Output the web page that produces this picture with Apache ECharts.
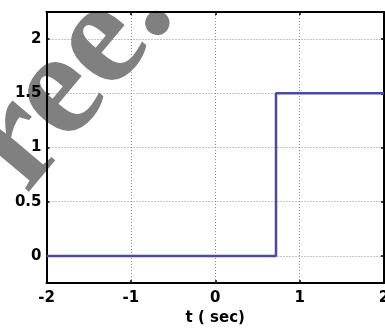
<!DOCTYPE html>
<html>
<head>
<meta charset="utf-8">
<script src="https://cdn.jsdelivr.net/npm/echarts@6/dist/echarts.min.js"></script>
<style>
  html, body { margin: 0; padding: 0; background: #fff; }
  #chart { width: 385px; height: 332px; }
</style>
</head>
<body>
<div id="chart"></div>
<script>
// Step signal: zero until the switch time, then a constant level
const tPoints = [-2, 0.72, 0.72, 2];
const signalValues = [0, 0, 1.5, 1.5];

// Axis extents and tick positions
const tRange = [-2, 2];
const tStep = 1;
const yRange = [-0.25, 2.25];
const yTicks = [0, 0.5, 1, 1.5, 2];

const axisLabelFont = { fontFamily: 'DejaVu Sans', fontWeight: 'bold', fontSize: 15, color: '#000' };
const frameLine = { show: true, onZero: false, lineStyle: { color: '#000', width: 2 } };
const gridDots = { show: true, lineStyle: { color: '#8a8a8a', width: 1, type: [1, 2] } };
const innerTick = { show: true, inside: true, length: 3, lineStyle: { color: '#000', width: 1.5 } };

const chart = echarts.init(document.getElementById('chart'), null, { renderer: 'canvas' });

chart.setOption({
  animation: false,
  backgroundColor: '#fff',
  grid: { left: 46.5, top: 12, right: 1, bottom: 49, containLabel: false, outerBoundsMode: 'none' },
  graphic: [{
    type: 'text',
    z: -10,
    x: 72,
    y: 80,
    rotation: 50 * Math.PI / 180,
    style: {
      text: 'ree.',
      font: 'bold 150px "Liberation Serif", "Times New Roman", serif',
      fill: '#808080',
      textAlign: 'center',
      textVerticalAlign: 'middle'
    }
  }],
  xAxis: [{
    type: 'value',
    min: tRange[0], max: tRange[1], interval: tStep,
    position: 'bottom',
    axisLine: frameLine,
    axisTick: innerTick,
    splitLine: gridDots,
    axisLabel: Object.assign({ margin: 8 }, axisLabelFont),
    name: 't ( sec)',
    nameLocation: 'middle',
    nameGap: 26,
    nameTextStyle: { fontFamily: 'DejaVu Sans', fontWeight: 'bold', fontSize: 15, color: '#000' }
  }, {
    type: 'value',
    min: tRange[0], max: tRange[1], interval: tStep,
    position: 'top',
    axisLine: frameLine,
    axisTick: innerTick,
    splitLine: { show: false },
    axisLabel: { show: false }
  }],
  yAxis: [{
    type: 'value',
    min: yRange[0], max: yRange[1],
    position: 'left',
    axisLine: frameLine,
    axisTick: Object.assign({ customValues: yTicks }, innerTick),
    splitLine: gridDots,
    axisLabel: Object.assign({ margin: 5, customValues: yTicks }, axisLabelFont)
  }, {
    type: 'value',
    min: yRange[0], max: yRange[1],
    position: 'right',
    axisLine: frameLine,
    axisTick: Object.assign({ customValues: yTicks }, innerTick),
    splitLine: { show: false },
    axisLabel: { show: false, customValues: yTicks }
  }],
  series: [{
    type: 'line',
    xAxisIndex: 0,
    yAxisIndex: 0,
    data: tPoints.map((t, i) => [t, signalValues[i]]),
    showSymbol: false,
    symbol: 'none',
    lineStyle: { color: '#4b4b9d', width: 2.5 },
    z: 3
  }]
});
</script>
</body>
</html>
